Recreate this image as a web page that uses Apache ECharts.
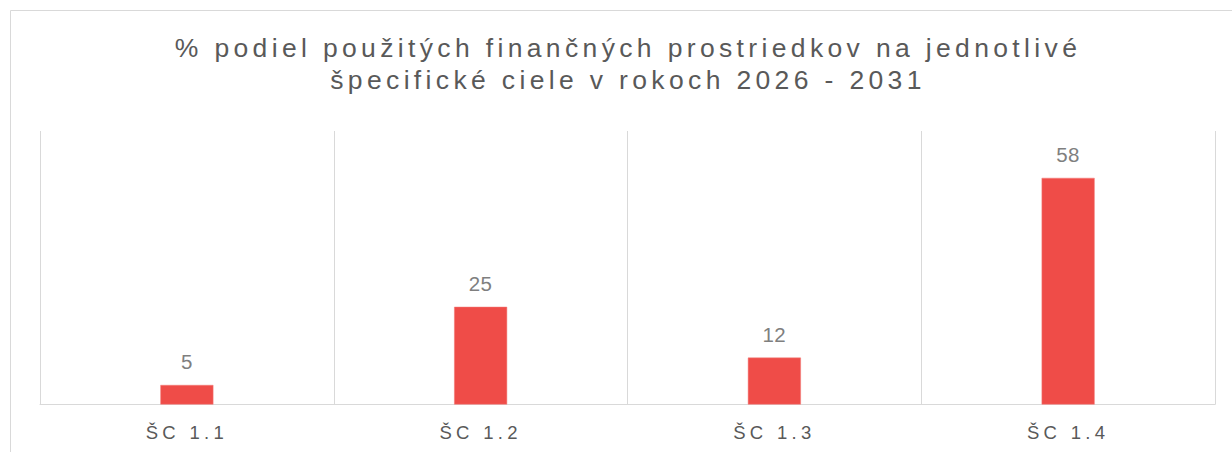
<!DOCTYPE html>
<html>
<head>
<meta charset="utf-8">
<script src="https://cdn.jsdelivr.net/npm/echarts@6/dist/echarts.min.js"></script>
<style>
  html, body { margin: 0; padding: 0; background: #fff; }
  #chart { width: 1232px; height: 452px; }
  /* spaced-out lettering, picked by each text's font size */
  #chart svg text[style*="font-size: 26.5px"] { letter-spacing: 4.35px; }
  #chart svg text[style*="font-size: 18.5px"] { letter-spacing: 4.3px; }
  #chart svg text[style*="font-size: 20.5px"] { letter-spacing: 0.5px; }
</style>
</head>
<body>
<div id="chart"></div>
<script>
const titleLines = [
  '% podiel použitých finančných prostriedkov na jednotlivé',
  'špecifické ciele v rokoch 2026 - 2031'
];
const categories = ['ŠC 1.1', 'ŠC 1.2', 'ŠC 1.3', 'ŠC 1.4'];
const shares = [5, 25, 12, 58];
const axisMax = 70;

const chart = echarts.init(document.getElementById('chart'), null, { renderer: 'svg' });

chart.setOption({
  backgroundColor: '#ffffff',
  animation: false,
  title: {
    text: titleLines.join('\n'),
    left: 628,
    top: 32,
    padding: 0,
    textAlign: 'center',
    textStyle: {
      fontFamily: 'Liberation Sans',
      fontSize: 26.5,
      fontWeight: 'normal',
      color: '#595959',
      lineHeight: 32
    }
  },
  graphic: [{
    type: 'rect',
    silent: true,
    shape: { x: 10.5, y: 10.5, width: 1300, height: 600 },
    style: { fill: 'none', stroke: '#d9d9d9', lineWidth: 1 }
  }],
  grid: { left: 40, right: 17, top: 131, bottom: 47.5, containLabel: false },
  xAxis: {
    type: 'category',
    data: categories,
    boundaryGap: true,
    axisLine: { show: true, lineStyle: { color: '#d9d9d9', width: 1 } },
    axisTick: { show: false },
    splitLine: { show: true, lineStyle: { color: '#d9d9d9', width: 1 } },
    axisLabel: {
      margin: 18,
      fontFamily: 'Liberation Sans',
      fontSize: 18.5,
      color: '#595959'
    }
  },
  yAxis: {
    type: 'value',
    min: 0,
    max: axisMax,
    show: false,
    splitLine: { show: false }
  },
  series: [{
    type: 'bar',
    data: shares,
    barWidth: 53,
    itemStyle: { color: '#ef4c48', borderColor: '#f27a76', borderWidth: 0.5 },
    label: {
      show: true,
      position: 'top',
      distance: 13,
      fontFamily: 'Liberation Sans',
      fontSize: 20.5,
      color: '#7f7f7f'
    }
  }]
});
</script>
</body>
</html>
